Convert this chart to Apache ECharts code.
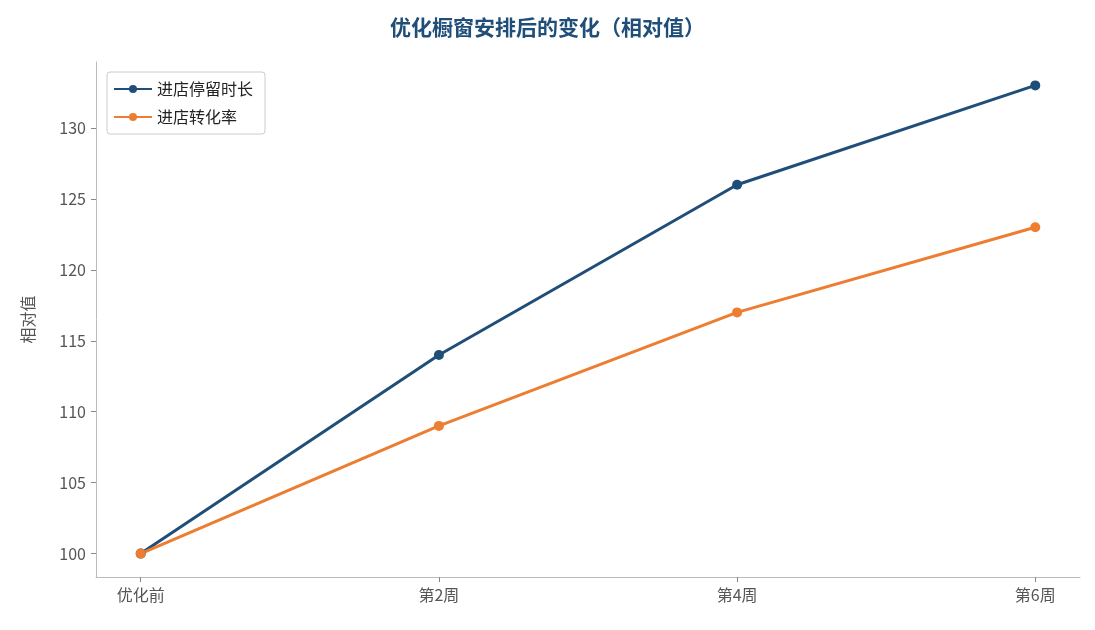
<!DOCTYPE html>
<html><head><meta charset="utf-8">
<script src="https://cdn.jsdelivr.net/npm/echarts@6/dist/echarts.min.js"></script>
<style>html,body{margin:0;padding:0;background:#fff}#c{width:1095px;height:630px}</style>
</head><body><div id="c"></div>
<script>
const categories = ['优化前','第2周','第4周','第6周'];
const dwellTime = [100,114,126,133];
const conversion = [100,109,117,123];
const yTicks = [100,105,110,115,120,125,130];
const font = '"Noto Sans CJK SC","Noto Sans",sans-serif';
const chart = echarts.init(document.getElementById('c'));
const toPts = arr => arr.map((v,i)=>[i,v]);
chart.setOption({
  backgroundColor:'#fff',
  title:{text:'优化橱窗安排后的变化（相对值）',left:'center',top:12,textStyle:{fontFamily:font,fontSize:21,fontWeight:'bold',color:'#1f4e79'}},
  legend:{left:107,top:72,orient:'vertical',itemGap:12,itemWidth:38,itemHeight:10,padding:[9,12,9,6],borderColor:'#ccc',borderWidth:1,borderRadius:3,
    textStyle:{fontFamily:font,fontSize:16,color:'#222'},
    data:['进店停留时长','进店转化率']},
  grid:{left:96,right:15,top:62,bottom:53},
  xAxis:{type:'value',min:-0.15,max:3.15,
    axisLine:{onZero:false,lineStyle:{color:'#bbb'}},splitLine:{show:false},
    axisTick:{customValues:[0,1,2,3],lineStyle:{color:'#888'}},
    axisLabel:{customValues:[0,1,2,3],formatter:v=>categories[Math.round(v)],fontFamily:font,fontSize:16,color:'#555',margin:10}},
  yAxis:{type:'value',min:98.35,max:134.65,name:'相对值',nameLocation:'middle',nameGap:60,nameTextStyle:{fontFamily:font,fontSize:16,color:'#555'},
    axisLine:{show:true,onZero:false,lineStyle:{color:'#bbb'}},splitLine:{show:false},
    axisTick:{show:true,customValues:yTicks,lineStyle:{color:'#888'}},
    axisLabel:{customValues:yTicks,fontFamily:font,fontSize:16,color:'#555',margin:10}},
  series:[
    {name:'进店停留时长',type:'line',data:toPts(dwellTime),symbol:'circle',symbolSize:10,lineStyle:{width:3,color:'#1f4e79'},itemStyle:{color:'#1f4e79'}},
    {name:'进店转化率',type:'line',data:toPts(conversion),symbol:'circle',symbolSize:10,lineStyle:{width:3,color:'#ed7d31'},itemStyle:{color:'#ed7d31'}}
  ]
});
</script></body></html>
